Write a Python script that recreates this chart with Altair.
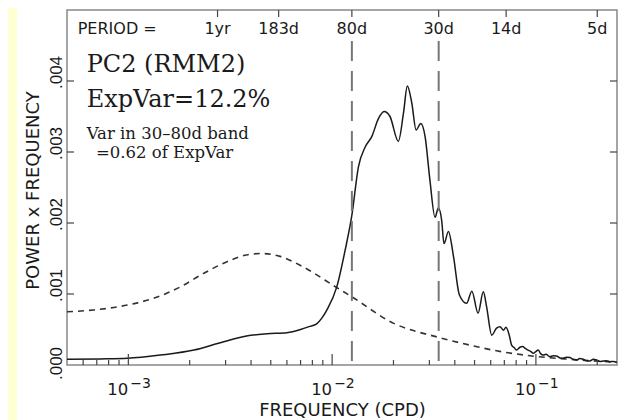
import altair as alt
import pandas as pd

# ---------------- data ----------------
# PC2 (RMM2) spectrum: frequency (cpd) and power x frequency
spec_freq = [0.0005, 0.00073, 0.00099, 0.00144, 0.0021, 0.0028, 0.0038, 0.0048,
             0.0060, 0.0070, 0.0077, 0.0084, 0.0089, 0.0094, 0.01054, 0.01159,
             0.0125, 0.01346, 0.01453, 0.01567, 0.01687, 0.01799, 0.01923, 0.02113,
             0.0224, 0.02339, 0.0246, 0.02583, 0.02723, 0.02858, 0.0302, 0.03199,
             0.0332, 0.0345, 0.0354, 0.0372, 0.0394, 0.0421, 0.0457, 0.0485,
             0.0520, 0.0552, 0.0573, 0.0607, 0.0641, 0.0667, 0.0692, 0.0713,
             0.0740, 0.0760, 0.0785, 0.0804, 0.0835, 0.0861, 0.0890, 0.0916,
             0.0945, 0.0970, 0.1000, 0.1026, 0.1055, 0.1086, 0.1120, 0.1172,
             0.1215, 0.1262, 0.1310, 0.1361, 0.1410, 0.1469, 0.1520, 0.1585,
             0.1640, 0.1706, 0.1770, 0.1841, 0.1910, 0.1987, 0.2060, 0.2138,
             0.2220, 0.2307, 0.2400, 0.2490]
spec_power = [0.00008, 0.000085, 0.000094, 0.00014, 0.00021, 0.00031, 0.00041, 0.00044,
              0.000455, 0.0005, 0.00054, 0.00058, 0.00066, 0.00077, 0.0011, 0.00162,
              0.00211, 0.00279, 0.00307, 0.00322, 0.00347, 0.00357, 0.0035, 0.00315,
              0.00355, 0.00393, 0.00369, 0.00331, 0.0034, 0.00322, 0.0026, 0.00208,
              0.00221, 0.00203, 0.00171, 0.00188, 0.00153, 0.00099, 0.00087, 0.00104,
              0.00073, 0.00103, 0.00082, 0.00042, 0.00052, 0.00054, 0.00049, 0.00053,
              0.00042, 0.00028, 0.00024, 0.00021, 0.00025, 0.00026, 0.00023, 0.00021,
              0.00019, 0.000165, 0.00019, 0.00021, 0.00016, 0.00014, 0.00015, 0.000117,
              0.00013, 0.000127, 0.00010, 0.000094, 0.00011, 0.000105, 0.00008, 0.00007,
              0.00009, 0.00008, 0.00006, 0.000056, 0.00008, 0.00007, 0.00005, 0.000056,
              0.00006, 0.000046, 0.00005, 0.000038]

# red-noise background (dashed)
red_freq = [0.0005, 0.000676, 0.00099, 0.00133, 0.0018, 0.00234, 0.00305, 0.0038,
            0.00452, 0.00556, 0.00723, 0.01054, 0.0125, 0.01995, 0.0332, 0.0474,
            0.0641, 0.0936, 0.147, 0.249]
red_power = [0.00075, 0.000775, 0.000845, 0.00094, 0.0011, 0.00129, 0.001455, 0.00155,
             0.00157, 0.00153, 0.00138, 0.00109, 0.00096, 0.00059, 0.00039, 0.00028,
             0.0002, 0.00013, 0.00008, 0.00004]

# top axis: periods
period_labels = ["1yr", "183d", "80d", "30d", "14d", "5d"]
period_days = [365, 183, 80, 30, 14, 5]
band_days = [80, 30]

# bottom axis
x_major = [0.001, 0.01, 0.1]
x_major_base = ["10", "10", "10"]
x_major_exp = ["\u22123", "\u22122", "\u22121"]
x_minor = [0.0006, 0.0007, 0.0008, 0.0009,
           0.002, 0.003, 0.004, 0.005, 0.006, 0.007, 0.008, 0.009,
           0.02, 0.03, 0.04, 0.05, 0.06, 0.07, 0.08, 0.09, 0.2]

# left / right axis
y_ticks = [0.000, 0.001, 0.002, 0.003, 0.004]

# annotation text
title_lines = ["PC2 (RMM2)", "ExpVar=12.2%"]
note_lines = ["Var in 30\u201380d band", "=0.62 of ExpVar"]

# ---------------- chart ----------------
W, H = 550, 355
INK = "#1a1a1a"
SANS = "DejaVu Sans"
SERIF = "DejaVu Serif"

xscale = alt.Scale(type="log", domain=[0.0005, 0.25], nice=False)
yscale = alt.Scale(domain=[0, 0.005], nice=False, zero=False)

xaxis = alt.Axis(labels=False, ticks=False, domain=False, grid=False,
                 title="FREQUENCY (CPD)", titleFont=SANS, titleFontSize=18,
                 titleFontWeight="normal", titleColor=INK, titleX=W / 2,
                 titleY=50, titleAlign="center", titleBaseline="alphabetic")
yaxis = alt.Axis(values=y_ticks,
                 labelExpr="replace(format(datum.value, '.3f'), '0.', '.')",
                 labelAngle=270, labelAlign="center", labelBaseline="alphabetic",
                 labelPadding=6, labelFont="Liberation Sans Narrow, Liberation Sans",
                 labelFontSize=17, labelColor=INK, labelOverlap=False,
                 labelOffset={"condition": {"test": "datum.value == 0", "value": -2}, "value": -9},
                 ticks=False, tickSize=0, domain=False, grid=False,
                 title="POWER x FREQUENCY", titleFont=SANS, titleFontSize=18,
                 titleFontWeight="normal", titleColor=INK, titleAngle=270,
                 titleX=-28.5, titleY=H / 2 + 2.5, titleAlign="center",
                 titleBaseline="alphabetic")

X = lambda: alt.X("f:Q", scale=xscale, axis=xaxis)
Y = lambda: alt.Y("p:Q", scale=yscale, axis=yaxis)

spec_df = pd.DataFrame({"f": spec_freq, "p": spec_power})
red_df = pd.DataFrame({"f": red_freq, "p": red_power})
per_df = pd.DataFrame({"f": [1.0 / d for d in period_days], "label": period_labels})
band_df = pd.DataFrame({"f": [1.0 / d for d in band_days]})
maj_df = pd.DataFrame({"f": x_major, "base": x_major_base, "exp": x_major_exp})
min_df = pd.DataFrame({"f": x_minor})
yt_df = pd.DataFrame({"p": y_ticks[1:]})
one = pd.DataFrame({"a": [0]})

strip = alt.Chart(one).mark_rect(color="#FFFFD4").encode(
    x=alt.value(-59), x2=alt.value(-50), y=alt.value(-2), y2=alt.value(H + 55))

red = alt.Chart(red_df).mark_line(color="#333333", strokeWidth=1.6, strokeDash=[6, 5],
                                  interpolate="monotone", clip=True).encode(x=X(), y=Y())
spec = alt.Chart(spec_df).mark_line(color=INK, strokeWidth=1.5,
                                    interpolate="monotone", clip=True).encode(x=X(), y=Y())

bands = alt.Chart(band_df).mark_rule(color="#777777", strokeWidth=2, strokeDash=[20, 10]).encode(
    x=X(), y=alt.value(31), y2=alt.value(H))

tick_col = "#444444"
maj_ticks = alt.Chart(maj_df).mark_rule(color=tick_col, strokeWidth=1.2).encode(
    x=X(), y=alt.value(H), y2=alt.value(H - 11))
min_ticks = alt.Chart(min_df).mark_rule(color=tick_col, strokeWidth=1.2).encode(
    x=X(), y=alt.value(H), y2=alt.value(H - 5))
top_ticks = alt.Chart(per_df).mark_rule(color=tick_col, strokeWidth=1.2).encode(
    x=X(), y=alt.value(0), y2=alt.value(7))
left_ticks = alt.Chart(yt_df).mark_rule(color=tick_col, strokeWidth=1.2).encode(
    y=Y(), x=alt.value(0), x2=alt.value(7))
right_ticks = alt.Chart(yt_df).mark_rule(color=tick_col, strokeWidth=1.2).encode(
    y=Y(), x=alt.value(W - 7), x2=alt.value(W))

period_head = alt.Chart(one).mark_text(text="PERIOD =", font=SANS, fontSize=16, color=INK,
                                        align="left", baseline="alphabetic").encode(
    x=alt.value(10.7), y=alt.value(24))
period_text = alt.Chart(per_df).mark_text(font=SANS, fontSize=16, color=INK,
                                          align="center", baseline="alphabetic").encode(
    x=X(), y=alt.value(24), text="label:N")

base_text = alt.Chart(maj_df).mark_text(font=SANS, fontSize=16.5, color=INK,
                                        align="right", baseline="alphabetic").encode(
    x=X(), y=alt.value(385), text="base:N")
exp_text = alt.Chart(maj_df).mark_text(font=SANS, fontSize=14, color=INK, dx=2,
                                       align="left", baseline="alphabetic").encode(
    x=X(), y=alt.value(378), text="exp:N")

t1 = alt.Chart(one).mark_text(text=title_lines[0], font=SERIF, fontSize=24, color=INK,
                              align="left", baseline="alphabetic").encode(
    x=alt.value(19.7), y=alt.value(61.7))
t2 = alt.Chart(one).mark_text(text=title_lines[1], font=SERIF, fontSize=24, color=INK,
                              align="left", baseline="alphabetic").encode(
    x=alt.value(19.7), y=alt.value(96.7))
n1 = alt.Chart(one).mark_text(text=note_lines[0], font=SERIF, fontSize=16.5, color=INK,
                              align="left", baseline="alphabetic").encode(
    x=alt.value(19.7), y=alt.value(128.5))
n2 = alt.Chart(one).mark_text(text=note_lines[1], font=SERIF, fontSize=16.5, color=INK,
                              align="left", baseline="alphabetic").encode(
    x=alt.value(29), y=alt.value(147.5))

chart = alt.layer(
    strip, red, spec, bands, maj_ticks, min_ticks, top_ticks, left_ticks, right_ticks,
    period_head, period_text, base_text, exp_text, t1, t2, n1, n2
).properties(
    width=W, height=H,
    autosize=alt.AutoSizeParams(type="none"),
    padding={"left": 59, "top": 2, "right": 4, "bottom": 55},
    background="white",
).configure_view(stroke="#888888", strokeWidth=1.5)

chart.save("out.html", embed_options={"renderer": "svg", "actions": False})
